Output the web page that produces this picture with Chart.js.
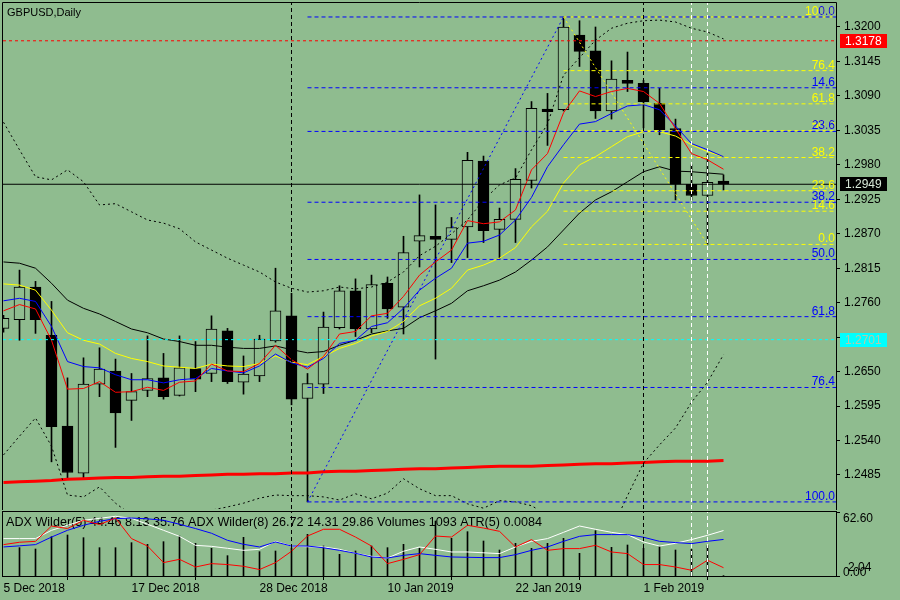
<!DOCTYPE html>
<html>
<head>
<meta charset="utf-8">
<script src="https://cdn.jsdelivr.net/npm/chart.js@4.4.1/dist/chart.umd.min.js"></script>
<style>
  html, body { margin: 0; padding: 0; width: 900px; height: 600px; overflow: hidden; background: #8fbc8f; }
  canvas { position: absolute; left: 0; }
  #main { top: 0; }
  #lower { top: 509px; }
</style>
</head>
<body>
<canvas id="main" width="900" height="510"></canvas>
<canvas id="lower" width="900" height="91"></canvas>
<script>
const dates = ['5 Dec 2018','6 Dec 2018','7 Dec 2018','10 Dec 2018','11 Dec 2018','12 Dec 2018','13 Dec 2018','14 Dec 2018',
  '17 Dec 2018','18 Dec 2018','19 Dec 2018','20 Dec 2018','21 Dec 2018','24 Dec 2018','26 Dec 2018','27 Dec 2018',
  '28 Dec 2018','31 Dec 2018','2 Jan 2019','3 Jan 2019','4 Jan 2019','7 Jan 2019','8 Jan 2019','9 Jan 2019',
  '10 Jan 2019','11 Jan 2019','14 Jan 2019','15 Jan 2019','16 Jan 2019','17 Jan 2019','18 Jan 2019','21 Jan 2019',
  '22 Jan 2019','23 Jan 2019','24 Jan 2019','25 Jan 2019','28 Jan 2019','29 Jan 2019','30 Jan 2019','31 Jan 2019',
  '1 Feb 2019','4 Feb 2019','5 Feb 2019','6 Feb 2019','7 Feb 2019','8 Feb 2019'];
const dateTickIdx = [0, 8, 16, 24, 32, 40];

const opens  = [1.2719,1.2733,1.2785,1.2708,1.2563,1.2488,1.2630,1.2651,1.2604,1.2620,1.2640,1.2612,1.2655,1.2647,1.2715,1.2633,
  1.2643,1.2699,1.2739,1.2607,1.2630,1.2720,1.2779,1.2718,1.2791,1.2753,1.2858,1.2866,1.2861,1.2881,1.2986,1.2877,
  1.2893,1.2955,1.3069,1.3068,1.3187,1.3162,1.3066,1.3115,1.3110,1.3078,1.3038,1.2949,1.2931,1.2954];
const highs  = [1.2740,1.2812,1.2794,1.2762,1.2640,1.2672,1.2688,1.2670,1.2647,1.2707,1.2679,1.2707,1.2698,1.2739,1.2719,1.2675,
  1.2708,1.2815,1.2775,1.2647,1.2745,1.2787,1.2798,1.2804,1.2801,1.2866,1.2932,1.2916,1.2896,1.3000,1.2994,1.2911,
  1.2974,1.3081,1.3094,1.3216,1.3210,1.3200,1.3146,1.3160,1.3115,1.3102,1.3053,1.2980,1.2998,1.2964];
const lows   = [1.2713,1.2700,1.2711,1.2506,1.2480,1.2478,1.2610,1.2529,1.2572,1.2610,1.2606,1.2611,1.2618,1.2634,1.2631,1.2614,
  1.2634,1.2697,1.2597,1.2442,1.2615,1.2718,1.2706,1.2712,1.2735,1.2710,1.2817,1.2670,1.2824,1.2832,1.2856,1.2831,
  1.2856,1.2943,1.3011,1.3066,1.3137,1.3054,1.3053,1.3097,1.3039,1.3028,1.2924,1.2924,1.2853,1.2940];
const closes = [1.2735,1.2785,1.2733,1.2562,1.2489,1.2630,1.2654,1.2584,1.2618,1.2639,1.2610,1.2656,1.2638,1.2718,1.2634,1.2646,
  1.2702,1.2747,1.2606,1.2631,1.2721,1.2779,1.2718,1.2789,1.2750,1.2840,1.2867,1.2861,1.2880,1.2987,1.2875,1.2893,
  1.2957,1.3070,1.3065,1.3200,1.3161,1.3066,1.3117,1.3110,1.3081,1.3036,1.2949,1.2931,1.2952,1.2949];

const maRed    = [1.2747,1.2757,1.2750,1.2700,1.2622,1.2623,1.2634,1.2617,1.2618,1.2625,1.2620,1.2633,1.2635,1.2662,1.2651,1.2650,
  1.2663,1.2692,1.2669,1.2654,1.2674,1.2710,1.2714,1.2739,1.2743,1.2770,1.2804,1.2825,1.2844,1.2891,1.2886,1.2889,
  1.2908,1.2972,1.2998,1.3063,1.3098,1.3089,1.3097,1.3102,1.3097,1.3078,1.3038,1.2998,1.2988,1.2973];
const maBlue   = [1.2763,1.2767,1.2762,1.2722,1.2666,1.2658,1.2656,1.2645,1.2637,1.2637,1.2632,1.2637,1.2639,1.2655,1.2651,1.2648,
  1.2659,1.2678,1.2664,1.2657,1.2671,1.2695,1.2700,1.2722,1.2728,1.2751,1.2780,1.2799,1.2815,1.2855,1.2858,1.2868,
  1.2892,1.2928,1.2977,1.3012,1.3045,1.3049,1.3062,1.3074,1.3076,1.3068,1.3042,1.3014,1.3004,1.2993];
const maYellow = [1.2790,1.2788,1.2780,1.2748,1.2712,1.2700,1.2694,1.2679,1.2671,1.2666,1.2659,1.2657,1.2655,1.2662,1.2659,1.2658,
  1.2663,1.2675,1.2665,1.2661,1.2674,1.2687,1.2695,1.2707,1.2714,1.2730,1.2755,1.2767,1.2783,1.2812,1.2820,1.2831,
  1.2848,1.2881,1.2906,1.2951,1.2980,1.2993,1.3009,1.3025,1.3033,1.3033,1.3026,1.3012,1.3001,1.2993];
const maBlack  = [1.2825,1.2823,1.2815,1.2791,1.2764,1.2751,1.2742,1.2730,1.2718,1.2712,1.2702,1.2698,1.2692,1.2692,1.2689,1.2687,
  1.2687,1.2691,1.2685,1.2680,1.2682,1.2692,1.2700,1.2710,1.2715,1.2719,1.2736,1.2747,1.2759,1.2779,1.2787,1.2796,
  1.2809,1.2828,1.2849,1.2876,1.2903,1.2924,1.2937,1.2953,1.2969,1.2977,1.2970,1.2969,1.2967,1.2965];
const bandUpper = [1.3048,1.3004,1.2961,1.2956,1.2972,1.2953,1.2916,1.2918,1.2905,1.2892,1.2887,1.2878,1.2857,1.2844,1.2831,1.2820,
  1.2809,1.2793,1.2783,1.2777,1.2779,1.2785,1.2782,1.2785,1.2793,1.2809,1.2835,1.2850,1.2870,1.2892,1.2924,1.2948,
  1.2959,1.3004,1.3045,1.3123,1.3151,1.3179,1.3198,1.3206,1.3210,1.3211,1.3208,1.3198,1.3192,1.3181];
const bandLower = [1.2517,1.2547,1.2576,1.2531,1.2453,1.2450,1.2466,1.2440,1.2421,1.2413,1.2410,1.2416,1.2423,1.2429,1.2434,1.2440,
  1.2448,1.2453,1.2452,1.2452,1.2450,1.2445,1.2455,1.2447,1.2456,1.2479,1.2463,1.2452,1.2452,1.2439,1.2432,1.2444,
  1.2442,1.2436,1.2421,1.2397,1.2381,1.2373,1.2397,1.2452,1.2504,1.2533,1.2560,1.2601,1.2633,1.2677];
const maSlow   = [1.2473,1.2474,1.2475,1.2476,1.2478,1.2479,1.2480,1.2481,1.2481,1.2482,1.2483,1.2483,1.2484,1.2485,1.2486,1.2486,
  1.2487,1.2487,1.2488,1.2488,1.2490,1.2491,1.2491,1.2492,1.2493,1.2494,1.2495,1.2495,1.2496,1.2497,1.2498,1.2499,
  1.2499,1.2499,1.2500,1.2501,1.2502,1.2503,1.2503,1.2504,1.2505,1.2506,1.2507,1.2507,1.2507,1.2508];

const adxMain = [36.6,36.6,36.6,44.7,49.6,54.5,56.4,58.4,56.4,50.6,44.7,38.8,30.0,29.0,27.1,25.1,
  26.1,33.9,29.3,28.6,28.4,26.1,22.2,19.3,17.6,24.2,28.4,26.1,23.5,23.5,22.7,21.9,
  28.4,33.9,36.6,42.7,48.9,45.7,42.7,40.5,33.3,29.3,32.0,35.6,39.8,44.46];
const plusDI  = [30.7,33.0,33.9,48.9,46.4,54.5,50.3,56.7,36.6,29.3,13.1,16.3,8.8,12.1,11.2,9.5,
  6.3,13.1,24.2,39.1,45.7,45.7,38.1,29.3,12.1,16.3,20.9,39.1,38.1,49.6,46.9,43.7,
  28.4,35.6,25.1,26.8,26.8,30.0,23.5,21.9,11.2,11.2,8.8,5.6,15.4,8.13];
const minusDI = [28.4,29.5,30.7,38.1,44.7,49.6,53.5,56.1,56.7,55.9,54.5,50.6,46.4,41.8,34.9,31.0,
  28.4,33.3,29.3,29.3,27.6,25.1,22.2,18.6,17.6,20.2,21.9,20.2,18.6,18.3,18.0,18.0,
  20.9,25.1,28.4,33.9,38.8,40.5,40.5,40.5,37.9,33.9,32.7,31.7,33.9,35.76];
const volumes = [null,85000,81000,118000,123000,115000,85000,85000,100000,95000,103000,120000,98000,83000,61000,116000,
  73000,75000,84000,125000,90000,65000,75000,90000,85000,95000,83000,165000,113000,133000,105000,78000,
  98000,83000,98000,113000,68000,136000,86000,93000,83000,88000,78000,80000,91000,1093];
const adx8Last = [26.72, 14.31, 29.86];
const atr5Last = 0.0084;

const priceTicks = [1.3200,1.3145,1.3090,1.3035,1.2980,1.2925,1.2870,1.2815,1.2760,1.2705,1.2650,1.2595,1.2540,1.2485];
const hLevels = [1.3178, 1.2701];
const fibLevels = [0, 14.6, 23.6, 38.2, 50, 61.8, 76.4, 100];
const fibHighIdx = 35, blueFibLowIdx = 19, yellowFibLowIdx = 44;
const vLinesBlack = [18, 40];
const vLinesWhite = [43, 44];
const adxMax = 62.6;

const BG = '#8fbc8f';
const FONT = '"Liberation Sans", Arial, sans-serif';
const X_MIN = -0.03125, X_MAX = X_MIN + 833 / 16;
const Y_MIN = 1.24307, Y_MAX = 1.32383;

const pts = arr => arr.map((v, i) => ({ x: i, y: v }));
const blueFib = l => highs[fibHighIdx] - l / 100 * (highs[fibHighIdx] - lows[blueFibLowIdx]);
const yellowFib = l => lows[yellowFibLowIdx] + l / 100 * (highs[fibHighIdx] - lows[yellowFibLowIdx]);

function line(data, color, width, dash, order) {
    return { type: 'line', data, borderColor: color, borderWidth: width, borderDash: dash || [],
             pointRadius: 0, fill: false, tension: 0, order };
}
const hline = (v, color, dash, from) => line([{ x: from, y: v }, { x: X_MAX, y: v }], color, 1, dash, 1);
const vline = (x, color, lo, hi) => line([{ x, y: lo }, { x, y: hi }], color, 1, [4, 3], 1);

// fixed axis box, no extra label padding
const fixBox = (w, h) => axis => {
    if (w) axis.width = w;
    if (h) axis.height = h;
    axis.paddingTop = 0; axis.paddingBottom = 0; axis.paddingLeft = 0; axis.paddingRight = 0;
};

const bull = [], bear = [];
closes.forEach((c, i) => (c >= opens[i] ? bull : bear).push({ x: i, y: [opens[i], c] }));

const mainDatasets = [
    // objects
    ...vLinesBlack.map(x => vline(x, '#000000', Y_MIN, Y_MAX)),
    ...vLinesWhite.map(x => vline(x, '#ffffff', Y_MIN, Y_MAX)),
    hline(hLevels[0], '#ff0000', [3, 3], X_MIN),
    hline(hLevels[1], '#00ffff', [3, 3], X_MIN),
    hline(closes[closes.length - 1], '#000000', [], X_MIN),
    ...fibLevels.map(l => hline(blueFib(l), '#0000ff', [4, 3], blueFibLowIdx)),
    ...fibLevels.map(l => hline(yellowFib(l), '#ffff00', [4, 3], fibHighIdx)),
    line([{ x: blueFibLowIdx, y: lows[blueFibLowIdx] }, { x: fibHighIdx, y: highs[fibHighIdx] }], '#0000ff', 1, [2, 3], 1),
    line([{ x: fibHighIdx, y: highs[fibHighIdx] }, { x: yellowFibLowIdx, y: lows[yellowFibLowIdx] }], '#ffff00', 1, [2, 3], 1),
    // indicators
    line(pts(maRed), '#ff0000', 1, [], 3),
    line(pts(maBlue), '#0000ff', 1, [], 4),
    line(pts(maYellow), '#ffff00', 1, [], 5),
    line(pts(maBlack), '#000000', 1, [], 6),
    line(pts(bandUpper), '#000000', 1, [2, 3], 7),
    line(pts(bandLower), '#000000', 1, [2, 3], 7),
    line(pts(maSlow), '#ff0000', 3, [], 8),
    // candles
    { type: 'bar', data: bear, backgroundColor: '#000000', borderColor: '#000000', borderWidth: 1,
      borderSkipped: false, barThickness: 11, grouped: false, order: 10 },
    { type: 'bar', data: bull, backgroundColor: BG, borderColor: '#000000', borderWidth: 1,
      borderSkipped: false, barThickness: 11, grouped: false, order: 11 },
    { type: 'bar', data: lows.map((l, i) => ({ x: i, y: [l, highs[i]] })), backgroundColor: '#000000',
      barThickness: 1, grouped: false, order: 12 }
];

const mainDecor = {
    id: 'mainDecor',
    afterDraw(chart) {
        const { ctx, chartArea: a, scales: { y } } = chart;
        ctx.save();
        // frame: top, left, right (the lower panel border closes it)
        ctx.strokeStyle = '#000';
        ctx.lineWidth = 1;
        ctx.beginPath();
        ctx.moveTo(a.left - 0.5, a.bottom + 2);
        ctx.lineTo(a.left - 0.5, a.top - 0.5);
        ctx.lineTo(a.right + 0.5, a.top - 0.5);
        ctx.lineTo(a.right + 0.5, a.bottom + 2);
        ctx.stroke();

        ctx.font = '12px ' + FONT;
        ctx.textAlign = 'right';
        ctx.textBaseline = 'alphabetic';
        [[yellowFib, '#ffff00'], [blueFib, '#0000ff']].forEach(([fib, col]) => {
            ctx.fillStyle = col;
            fibLevels.forEach(l => ctx.fillText(l.toFixed(1), a.right - 1, Math.round(y.getPixelForValue(fib(l))) - 2));
        });

        ctx.textAlign = 'left';
        ctx.fillStyle = '#000';
        ctx.font = '11px ' + FONT;
        ctx.fillText('GBPUSD,Daily', a.left + 4, a.top + 13);

        const tags = [
            { v: hLevels[0], bg: '#ff0000', fg: '#ffffff' },
            { v: closes[closes.length - 1], bg: '#000000', fg: '#d8e8d8' },
            { v: hLevels[1], bg: '#00ffff', fg: '#b8c8a8' }
        ];
        ctx.font = '12px ' + FONT;
        ctx.textBaseline = 'middle';
        tags.forEach(t => {
            const py = Math.round(y.getPixelForValue(t.v));
            ctx.fillStyle = t.bg;
            ctx.fillRect(a.right + 4, py - 7, 47, 14);
            ctx.fillStyle = t.fg;
            ctx.fillText(t.v.toFixed(4), a.right + 9, py + 1);
        });
        ctx.restore();
    }
};

// a tick label hidden under a price tag is not shown
const underTag = v => hLevels.some(h => Math.abs(h - v) < 0.0008);

new Chart(document.getElementById('main'), {
    type: 'bar',
    data: { datasets: mainDatasets },
    options: {
        responsive: false,
        animation: false,
        devicePixelRatio: 1,
        events: [],
        layout: { padding: { left: 3, top: 3, right: 0, bottom: 1 } },
        plugins: { legend: { display: false }, tooltip: { enabled: false } },
        scales: {
            x: { type: 'linear', min: X_MIN, max: X_MAX, offset: false, display: false },
            y: {
                position: 'right', min: Y_MIN, max: Y_MAX,
                afterFit: fixBox(64, 0),
                afterBuildTicks: axis => { axis.ticks = priceTicks.map(v => ({ value: v })); },
                border: { display: false },
                grid: { drawOnChartArea: false, drawTicks: true, tickLength: 4, color: '#000000' },
                ticks: { color: '#000000', font: { size: 12, family: FONT }, padding: 4,
                         autoSkip: false, callback: v => underTag(v) ? '' : v.toFixed(4) }
            }
        }
    },
    plugins: [mainDecor]
});

const lowerDecor = {
    id: 'lowerDecor',
    beforeDatasetsDraw(chart) {
        const { ctx, chartArea: a } = chart;
        ctx.save();
        ctx.font = '12.6px ' + FONT;
        ctx.fillStyle = '#000';
        ctx.textBaseline = 'alphabetic';
        const last = arr => arr[arr.length - 1];
        const txt = 'ADX Wilder(5) ' + last(adxMain).toFixed(2) + ' ' + last(plusDI).toFixed(2) + ' ' + last(minusDI).toFixed(2) +
            ' ADX Wilder(8) ' + adx8Last.map(v => v.toFixed(2)).join(' ') +
            ' Volumes ' + last(volumes) + ' ATR(5) ' + atr5Last.toFixed(4);
        ctx.fillText(txt, a.left + 3, a.top + 14);
        ctx.restore();
    },
    afterDraw(chart) {
        const { ctx, chartArea: a } = chart;
        ctx.save();
        ctx.strokeStyle = '#000';
        ctx.lineWidth = 1;
        ctx.strokeRect(a.left - 0.5, a.top - 0.5, a.right - a.left + 1, a.bottom - a.top + 1);
        ctx.font = '12px ' + FONT;
        ctx.fillStyle = '#000';
        ctx.textBaseline = 'middle';
        ctx.fillText(adxMax.toFixed(2), a.right + 7, a.top + 7);
        ctx.fillText((2.04).toFixed(2), a.right + 12, a.bottom - 8);
        ctx.fillText((0).toFixed(2), a.right + 7, a.bottom - 3);
        ctx.restore();
    }
};

new Chart(document.getElementById('lower'), {
    type: 'bar',
    data: {
        datasets: [
            ...vLinesBlack.map(x => vline(x, '#000000', 0, adxMax)),
            ...vLinesWhite.map(x => vline(x, '#ffffff', 0, adxMax)),
            line(pts(plusDI), '#ff0000', 1, [], 2),
            line(pts(minusDI), '#0000ff', 1, [], 3),
            line(pts(adxMain), '#ffffff', 1, [], 4),
            { type: 'bar', data: volumes.map((v, i) => ({ x: i, y: v })), yAxisID: 'yv',
              backgroundColor: '#000000', barThickness: 1, grouped: false, order: 5 }
        ]
    },
    options: {
        responsive: false,
        animation: false,
        devicePixelRatio: 1,
        events: [],
        layout: { padding: { left: 3, top: 3, right: 0, bottom: 0 } },
        plugins: { legend: { display: false }, tooltip: { enabled: false } },
        scales: {
            x: {
                type: 'linear', min: X_MIN, max: X_MAX, offset: false, position: 'bottom',
                afterFit: fixBox(0, 24),
                afterBuildTicks: axis => { axis.ticks = dateTickIdx.map(v => ({ value: v })); },
                border: { display: false },
                grid: { drawOnChartArea: false, drawTicks: true, tickLength: 4, color: '#000000' },
                ticks: { color: '#000000', font: { size: 12, family: FONT }, padding: 1, align: 'start',
                         autoSkip: false, maxRotation: 0, minRotation: 0, callback: v => dates[v] }
            },
            y: {
                position: 'right', min: 0, max: adxMax,
                afterFit: fixBox(64, 0),
                afterBuildTicks: axis => { axis.ticks = [0, adxMax].map(v => ({ value: v })); },
                border: { display: false },
                grid: { drawOnChartArea: false, drawTicks: true, tickLength: 4, color: '#000000' },
                ticks: { display: false }
            },
            yv: { display: false, min: 0, max: 192000 }
        }
    },
    plugins: [lowerDecor]
});
</script>
</body>
</html>
